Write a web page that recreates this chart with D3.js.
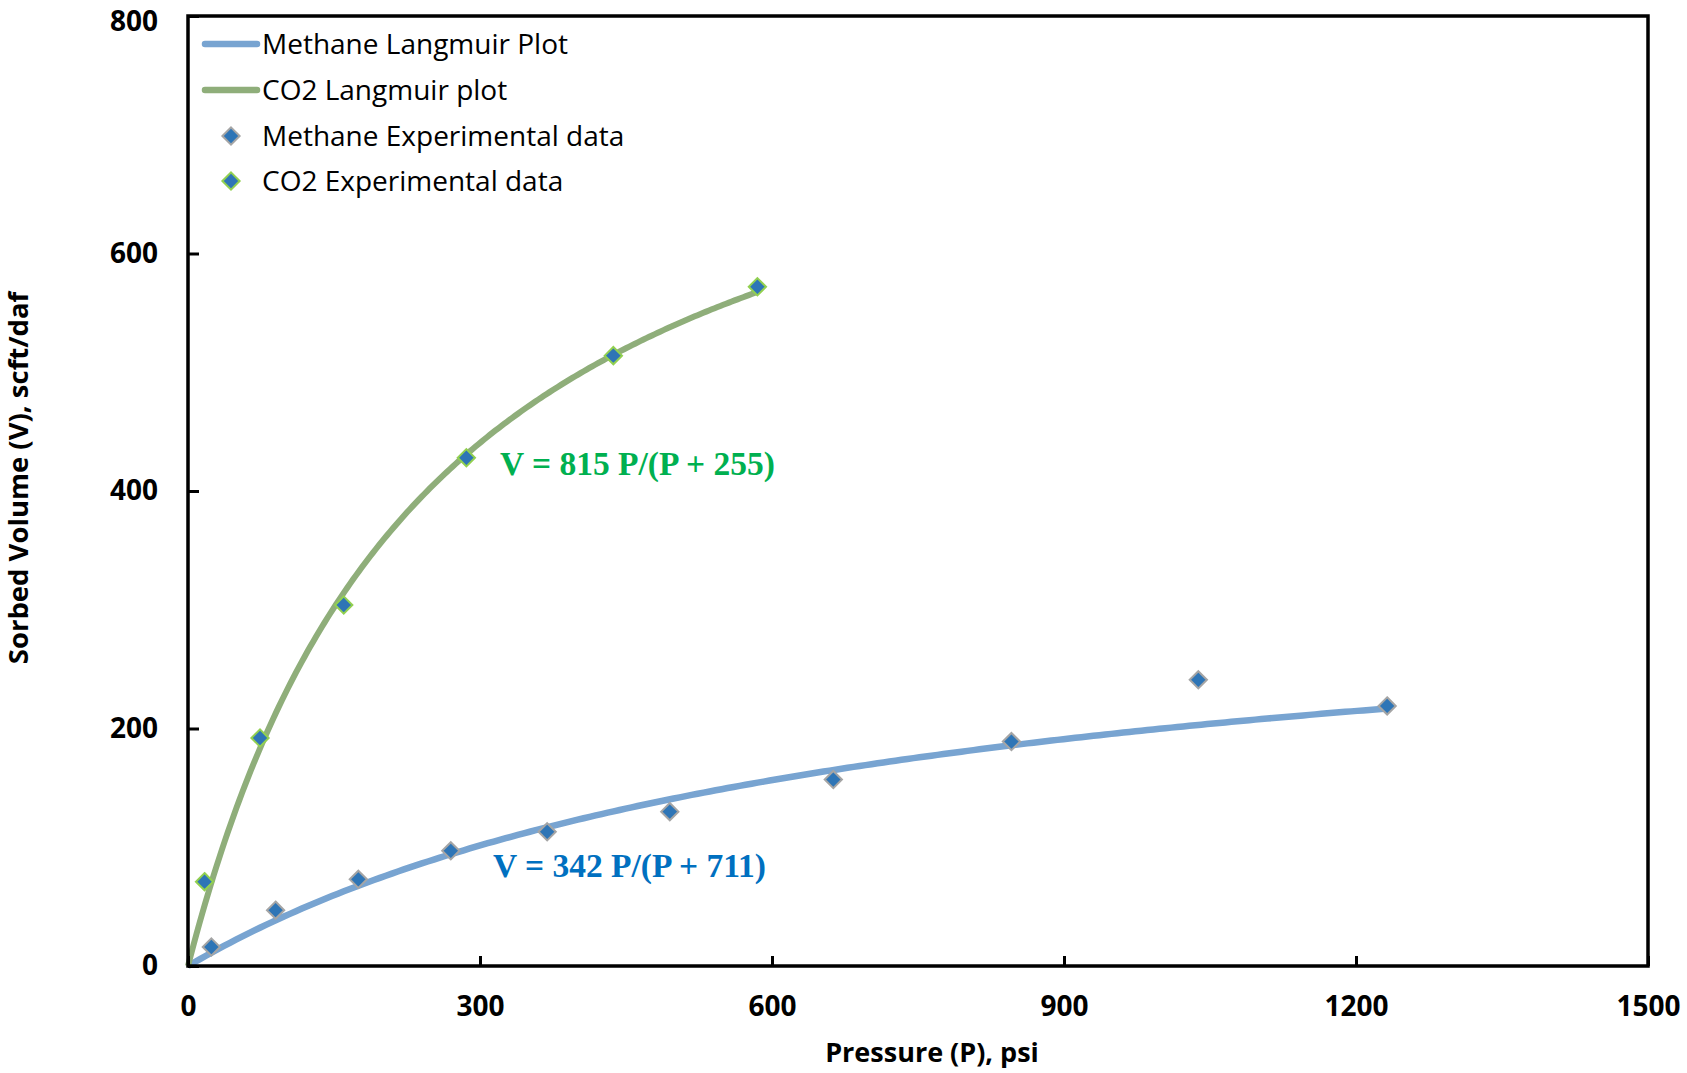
<!DOCTYPE html>
<html>
<head>
<meta charset="utf-8">
<script src="https://cdn.jsdelivr.net/npm/d3@7"></script>
<style>
  html, body { margin: 0; padding: 0; background: #ffffff; }
  svg { display: block; }
</style>
</head>
<body>
<script>
// Sorption data: pressure (psi) and sorbed volume (scft/daf)
const methanePressure = [24, 90, 175, 270, 369, 495, 663, 846, 1038, 1232];
const methaneVolume   = [16, 47, 73, 97, 113, 130, 157, 189, 241, 219];
const co2Pressure     = [17, 74, 160, 286, 437, 585];
const co2Volume       = [71, 192, 304, 428, 514, 572];

// Langmuir fit parameters: V = VL * P / (P + PL)
const methaneFit = { VL: 342, PL: 711, pMax: 1232 };
const co2Fit     = { VL: 815, PL: 255, pMax: 585 };

const xTicks = [0, 300, 600, 900, 1200, 1500];
const yTicks = [0, 200, 400, 600, 800];

const legendItems = [
  { label: "Methane Langmuir Plot", kind: "line", color: "#78a4d1" },
  { label: "CO2 Langmuir plot", kind: "line", color: "#8fae7a" },
  { label: "Methane Experimental data", kind: "marker", fill: "#2e75b6", stroke: "#a5a5a5" },
  { label: "CO2 Experimental data", kind: "marker", fill: "#2e75b6", stroke: "#92d050" }
];

const W = 1687, H = 1073;
const plot = { left: 188, right: 1648, top: 16, bottom: 966 };

const svg = d3.select("body").append("svg")
  .attr("width", W).attr("height", H);

const x = d3.scaleLinear().domain([0, 1500]).range([plot.left, plot.right]);
const y = d3.scaleLinear().domain([0, 800]).range([plot.bottom, plot.top]);

const axisFont = "'Open Sans', 'DejaVu Sans', sans-serif";

// Langmuir curves
function langmuirPoints(fit) {
  const n = 200;
  return d3.range(n + 1).map(i => {
    const p = fit.pMax * i / n;
    return [p, fit.VL * p / (p + fit.PL)];
  });
}
const line = d3.line().x(d => x(d[0])).y(d => y(d[1]));

svg.append("path")
  .datum(langmuirPoints(methaneFit))
  .attr("d", line)
  .attr("fill", "none")
  .attr("stroke", legendItems[0].color)
  .attr("stroke-width", 6.5);

svg.append("path")
  .datum(langmuirPoints(co2Fit))
  .attr("d", line)
  .attr("fill", "none")
  .attr("stroke", legendItems[1].color)
  .attr("stroke-width", 6);

// Experimental markers
const diamond = d3.symbol().type(d3.symbolDiamond2).size(190);

function drawMarkers(px, py, item) {
  svg.append("g").selectAll("path")
    .data(px.map((p, i) => [p, py[i]]))
    .join("path")
    .attr("d", diamond)
    .attr("transform", d => `translate(${x(d[0])},${y(d[1])})`)
    .attr("fill", item.fill)
    .attr("stroke", item.stroke)
    .attr("stroke-width", 2);
}
drawMarkers(methanePressure, methaneVolume, legendItems[2]);
drawMarkers(co2Pressure, co2Volume, legendItems[3]);

// Plot frame
svg.append("rect")
  .attr("x", plot.left).attr("y", plot.top)
  .attr("width", plot.right - plot.left)
  .attr("height", plot.bottom - plot.top)
  .attr("fill", "none")
  .attr("stroke", "#000")
  .attr("stroke-width", 3.5);

// X axis (ticks point into the plot)
const xAxis = svg.append("g")
  .attr("transform", `translate(0,${plot.bottom})`)
  .call(d3.axisBottom(x).tickValues(xTicks).tickFormat(d3.format("d"))
    .tickSizeInner(-10).tickSizeOuter(0).tickPadding(30));
xAxis.select(".domain").remove();
xAxis.selectAll(".tick line").attr("stroke", "#000").attr("stroke-width", 3);
xAxis.selectAll(".tick text")
  .attr("font-family", axisFont).attr("font-weight", "bold")
  .attr("font-size", 28).attr("fill", "#000");

// Y axis (ticks point into the plot)
const yAxis = svg.append("g")
  .attr("transform", `translate(${plot.left},0)`)
  .call(d3.axisLeft(y).tickValues(yTicks).tickFormat(d3.format("d"))
    .tickSizeInner(-11).tickSizeOuter(0).tickPadding(30));
yAxis.select(".domain").remove();
yAxis.selectAll(".tick line").attr("stroke", "#000").attr("stroke-width", 3);
yAxis.selectAll(".tick text")
  .attr("font-family", axisFont).attr("font-weight", "bold")
  .attr("font-size", 28).attr("fill", "#000");
// keep the top label fully inside the page
yAxis.selectAll(".tick").filter(d => d === 800).select("text").attr("dy", "0.5em");

// Axis titles
svg.append("text")
  .attr("x", 932).attr("y", 1062)
  .attr("text-anchor", "middle")
  .attr("font-family", axisFont).attr("font-weight", "bold")
  .attr("font-size", 27).attr("fill", "#000")
  .text("Pressure (P), psi");

svg.append("text")
  .attr("transform", "translate(28,478) rotate(-90)")
  .attr("text-anchor", "middle")
  .attr("font-family", axisFont).attr("font-weight", "bold")
  .attr("font-size", 27.5).attr("fill", "#000")
  .text("Sorbed Volume (V), scft/daf");

// Fit equations
const eqFont = "'Liberation Serif', 'Times New Roman', serif";
svg.append("text")
  .attr("x", 500).attr("y", 475)
  .attr("font-family", eqFont).attr("font-weight", "bold")
  .attr("font-size", 33.5).attr("fill", "#00b050")
  .text(`V = ${co2Fit.VL} P/(P + ${co2Fit.PL})`);

svg.append("text")
  .attr("x", 493).attr("y", 877)
  .attr("font-family", eqFont).attr("font-weight", "bold")
  .attr("font-size", 33.5).attr("fill", "#0070c0")
  .text(`V = ${methaneFit.VL} P/(P + ${methaneFit.PL})`);

// Legend
const legendRowY = [44, 90, 136, 181];
const legend = svg.append("g");
legendItems.forEach((item, i) => {
  const yy = legendRowY[i];
  if (item.kind === "line") {
    legend.append("line")
      .attr("x1", 205).attr("x2", 257)
      .attr("y1", yy).attr("y2", yy)
      .attr("stroke", item.color)
      .attr("stroke-width", 6.5)
      .attr("stroke-linecap", "round");
  } else {
    legend.append("path")
      .attr("d", diamond)
      .attr("transform", `translate(231,${yy})`)
      .attr("fill", item.fill)
      .attr("stroke", item.stroke)
      .attr("stroke-width", 2);
  }
  legend.append("text")
    .attr("x", 262).attr("y", yy)
    .attr("dy", "0.35em")
    .attr("font-family", axisFont)
    .attr("font-size", 28).attr("fill", "#000")
    .text(item.label);
});
</script>
</body>
</html>
